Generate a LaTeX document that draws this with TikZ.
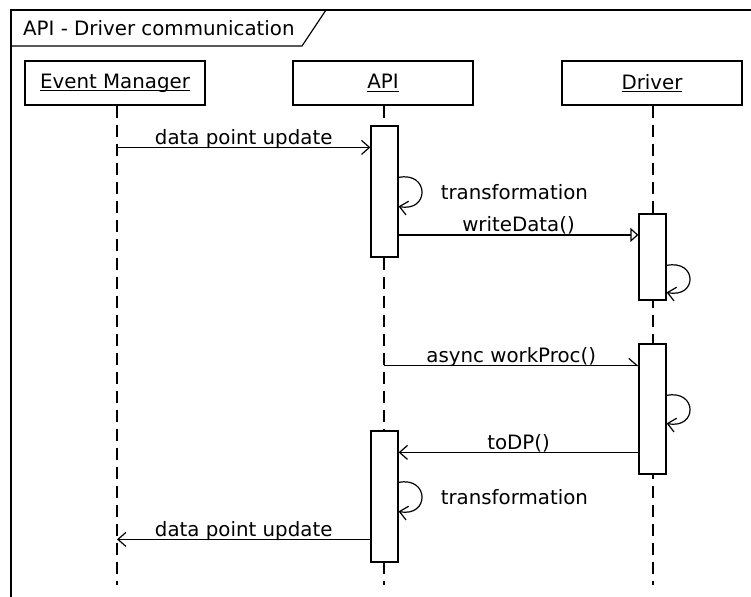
\documentclass[tikz,border=0pt]{standalone}
\usepackage{fontspec}
\setmainfont{DejaVu Sans}
\usetikzlibrary{arrows.meta}
% underline drawn just below the baseline, crossing descenders
\newcommand\ulname[1]{\setbox0\hbox{#1}\rlap{\rule[-2.6pt]{\wd0}{1pt}}\box0}
\begin{document}
\begin{tikzpicture}[x=1pt,y=-1pt,
  every node/.style={font=\fontsize{19.8}{24}\selectfont},
  head/.style={draw, line width=1.2pt, minimum width=180pt, minimum height=44pt, inner sep=0pt},
  act/.style={draw, fill=white, line width=1.2pt, minimum width=27pt, inner sep=0pt},
  life/.style={line width=1.2pt, dash pattern=on 12pt off 7pt},
  call/.style={line width=1.2pt, -{Straight Barb[length=8pt,width=14pt,line width=1.2pt]}},
  sync/.style={line width=1.2pt, -{Triangle[open,length=8pt,width=14pt,line width=1.2pt]}},
  async/.style={line width=1.2pt, -{Straight Barb[left,length=8pt,width=14pt,line width=1.2pt]}},
  lbl/.style={anchor=base, inner sep=0pt, yshift=3pt},
  looplbl/.style={anchor=west, inner sep=0pt}]
\clip (0,0) rectangle (751,596);

% frame with its name tab
\draw[line width=1.2pt] (11,620) -- (11,10) -- (780,10);
\draw[line width=1.2pt] (11,46) -- (302,46) -- (326,10);
\node[anchor=base west, inner sep=0pt] (title) at (23,36) {API - Driver communication};

% lifeline heads
\node[head] (em)  at (115,83) {\ulname{Event Manager}};
\node[head] (api) at (383,83) {\ulname{API}};
\node[head] (drv) at (652,83) {\ulname{Driver}};

% lifelines
\coordinate (bottom) at (0,585);
\draw[life] ([xshift=2pt]em.south) -- ([xshift=2pt]em.south |- bottom);
\draw[life] ([xshift=1pt]api.south) -- ([xshift=1pt]api.south |- bottom);
\draw[life] ([xshift=1pt]drv.south) -- ([xshift=1pt]drv.south |- bottom);

% activations
\node[act, minimum height=131pt] (a1) at (384.5,191.5) {};
\node[act, minimum height=86pt]  (d1) at (652.5,257) {};
\node[act, minimum height=130pt] (d2) at (652.5,409) {};
\node[act, minimum height=131pt] (a2) at (384.5,496.5) {};

% data point update (in)
\coordinate (m1) at ([yshift=-22pt]a1.north west);
\draw[call] ([xshift=2pt]em.south |- m1) -- (m1) node[lbl, midway] (m1l) {data point update};

% self calls
\draw[call] ([yshift=-52pt]a1.north east) .. controls +(31,-6) and +(31,6) .. ([yshift=-81pt]a1.north east);
\node[looplbl] (t1) at ([xshift=42pt,yshift=-67pt]a1.north east) {transformation};

\coordinate (m2) at ([yshift=-21.5pt]d1.north west);
\draw[sync] (a1.east |- m2) -- (m2) node[lbl, midway] (m2l) {writeData()};

\draw[call] ([yshift=-52pt]d1.north east) .. controls +(31,-6) and +(31,6) .. ([yshift=-79pt]d1.north east);

\coordinate (m3) at ([yshift=-22pt]d2.north west);
\draw[async] ([xshift=1pt]api.south |- m3) -- (m3) node[lbl, midway] (m3l) {async workProc()};

\draw[call] ([yshift=-52pt]d2.north east) .. controls +(31,-6) and +(31,6) .. ([yshift=-80pt]d2.north east);

\coordinate (m4) at ([yshift=-22pt]a2.north east);
\draw[call] (d2.west |- m4) -- (m4) node[lbl, midway] (m4l) {toDP()};

\draw[call] ([yshift=-52pt]a2.north east) .. controls +(31,-6) and +(31,6) .. ([yshift=-81pt]a2.north east);
\node[looplbl] (t2) at ([xshift=42pt,yshift=-67pt]a2.north east) {transformation};

% data point update (out)
\coordinate (m5) at ([yshift=-109pt]a2.north west);
\draw[call] (m5) -- ([xshift=2pt]em.south |- m5) node[lbl, midway] (m5l) {data point update};
\end{tikzpicture}
\end{document}
